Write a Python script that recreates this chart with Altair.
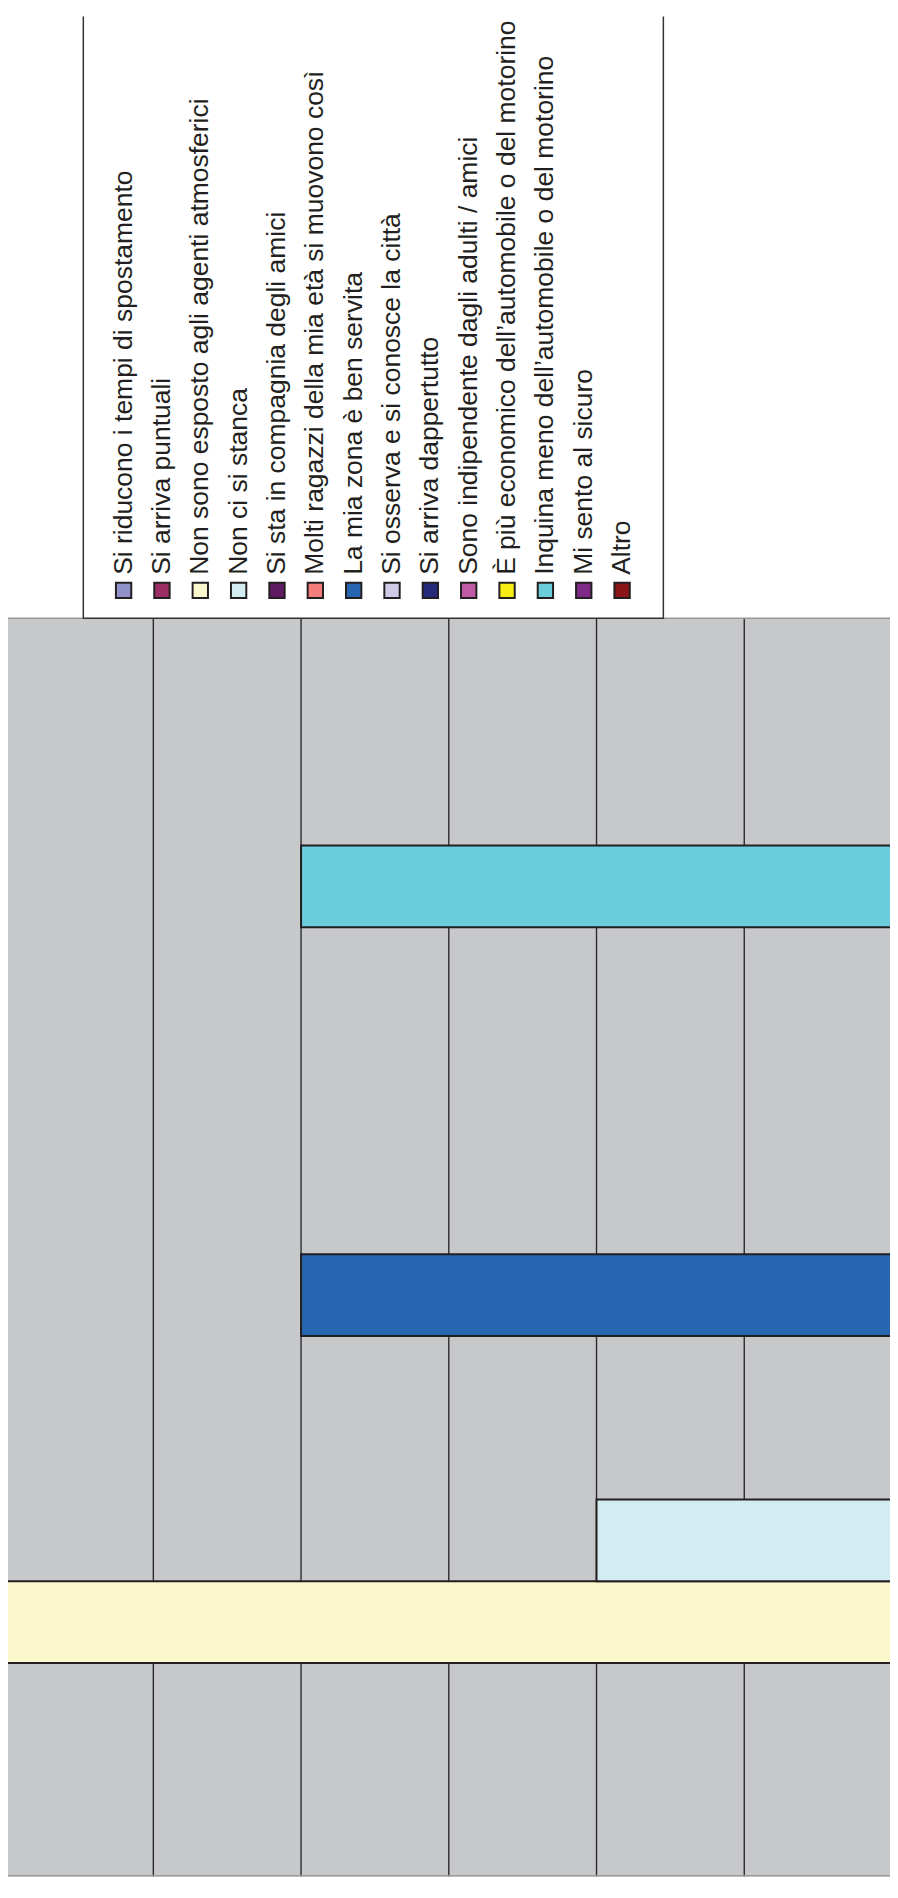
import altair as alt
import pandas as pd

labels = [
    "Si riducono i tempi di spostamento",
    "Si arriva puntuali",
    "Non sono esposto agli agenti atmosferici",
    "Non ci si stanca",
    "Si sta in compagnia degli amici",
    "Molti ragazzi della mia età si muovono così",
    "La mia zona è ben servita",
    "Si osserva e si conosce la città",
    "Si arriva dappertutto",
    "Sono indipendente dagli adulti / amici",
    "È più economico dell’automobile o del motorino",
    "Inquina meno dell’automobile o del motorino",
    "Mi sento al sicuro",
    "Altro",
]
colors = [
    "#9191c9", "#9b2d63", "#fbf8cd", "#d3ecf2", "#601a64", "#f47c7b", "#2766b0",
    "#cdcbe6", "#25297a", "#c05aa4", "#f7ec13", "#6bccdb", "#7e2a86", "#8a1619",
]
values = [0, 0, 6, 2, 0, 0, 4, 0, 0, 0, 0, 4, 0, 0]
grid_values = [1, 2, 3, 4, 5]

FONT = "Liberation Sans"
INK = "#231f20"
W = 890          # whole chart width
H = 1877         # whole chart height
TOP = 608        # top of the plot area

df = pd.DataFrame({"label": labels, "value": values})
gdf = pd.DataFrame({"g": grid_values})
one = pd.DataFrame({"k": [0]})

color_enc = alt.Color("label:N", scale=alt.Scale(domain=labels, range=colors), legend=None)

# ---------------- plot area ----------------
y_plot = alt.Y("label:N", scale=alt.Scale(type="band", domain=labels[::-1],
                                          range=[TOP + 63.5, TOP + 1218.5],
                                          paddingInner=0, paddingOuter=0), axis=None)
x_scale = alt.Scale(domain=[0, 6], range=[892, -2.42], nice=False)

plot_bg = alt.Chart(one).mark_rect(fill="#c7c8ca").encode(
    x=alt.value(0), x2=alt.value(W), y=alt.value(TOP), y2=alt.value(H))
grid = alt.Chart(gdf).mark_rule(color="#2a2a2c", strokeWidth=1.4).encode(
    x=alt.X("g:Q", scale=x_scale, axis=None), y=alt.value(TOP), y2=alt.value(H))
bars = alt.Chart(df).mark_bar(stroke=INK, strokeWidth=2, opacity=1).encode(
    x=alt.X("value:Q", scale=x_scale, axis=None), y=y_plot, color=color_enc)
top_border = alt.Chart(one).mark_rule(color="#9a9a9c", strokeWidth=1.6).encode(
    x=alt.value(0), x2=alt.value(W), y=alt.value(TOP - 0.8))
bottom_border = alt.Chart(one).mark_rule(color="#9a9a9c", strokeWidth=1.6).encode(
    x=alt.value(0), x2=alt.value(W), y=alt.value(H - 0.8))

# ---------------- legend ----------------
x_leg = alt.X("label:N", scale=alt.Scale(type="point", domain=labels, range=[97.3, 639.0]), axis=None)

box_fill = alt.Chart(one).mark_rect(fill="white").encode(
    x=alt.value(76), x2=alt.value(661.3), y=alt.value(0), y2=alt.value(TOP - 0.8))
box_left = alt.Chart(one).mark_rule(color="#333333", strokeWidth=1.5).encode(
    x=alt.value(76), y=alt.value(0), y2=alt.value(TOP))
box_right = alt.Chart(one).mark_rule(color="#333333", strokeWidth=1.5).encode(
    x=alt.value(661.3), y=alt.value(0), y2=alt.value(TOP))
box_bottom = alt.Chart(one).mark_rule(color="#333333", strokeWidth=1.5).encode(
    x=alt.value(76), x2=alt.value(661.3), y=alt.value(TOP - 0.8))

squares = alt.Chart(df).mark_square(size=240, stroke=INK, strokeWidth=2, opacity=1, filled=True).encode(
    x=x_leg, y=alt.value(579.2), color=color_enc)
texts = alt.Chart(df).mark_text(angle=270, align="left", baseline="middle", font=FONT,
                                fontSize=26.7, color=INK).encode(
    x=x_leg, y=alt.value(563.5), text="label:N")

chart = alt.layer(
    plot_bg, grid, bars, top_border, bottom_border,
    box_fill, box_left, box_right, box_bottom, squares, texts,
).resolve_scale(x="independent", y="independent").properties(
    width=W, height=H, padding=0,
    autosize=alt.AutoSizeParams(type="none"),
).configure_view(stroke="transparent")

chart.save("out.html", embed_options={"renderer": "svg", "actions": False})
